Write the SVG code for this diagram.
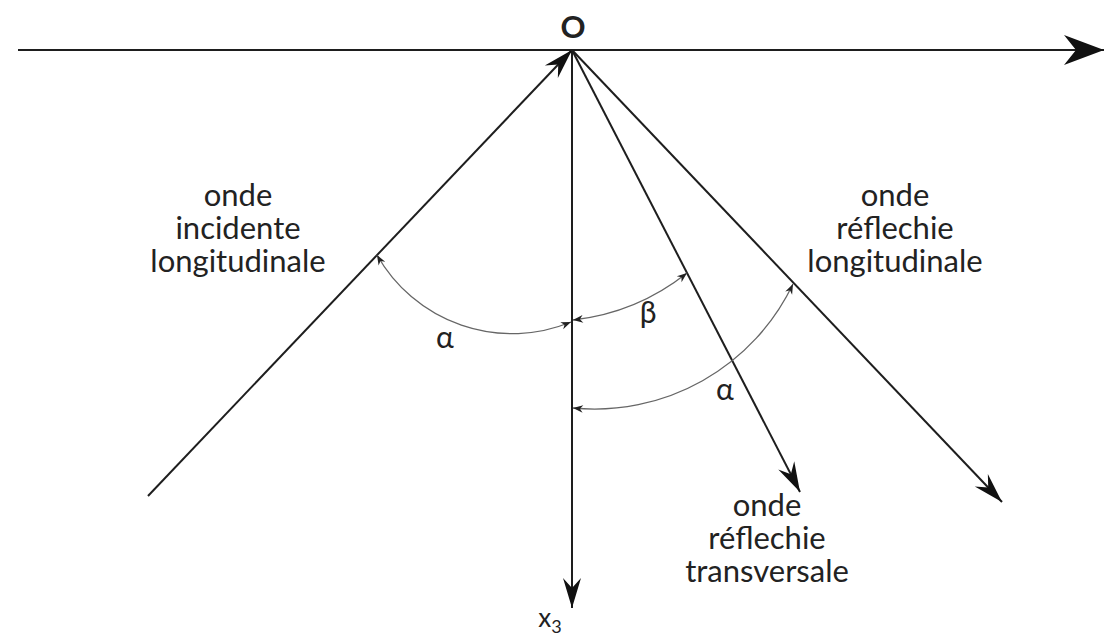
<svg xmlns="http://www.w3.org/2000/svg" width="1109" height="641" viewBox="0 0 1109 641">
  <style>
    .ax { stroke: #1e1e1e; stroke-width: 2; fill: none; }
    .arc { stroke: #666; stroke-width: 1.3; fill: none; }
    .lbl { font-family: Lato, "Liberation Sans", sans-serif; font-size: 31px; fill: #222; text-anchor: middle; }
    .gr { font-family: Lato, "DejaVu Sans", sans-serif; font-size: 30px; fill: #222; text-anchor: middle; }
  </style>
  <defs>
    <marker id="big" markerUnits="userSpaceOnUse" viewBox="-42 -16 44 32" refX="0" refY="0" markerWidth="44" markerHeight="32" orient="auto">
      <path d="M0,0 L-40,-15 L-28,0 L-40,15 Z" fill="#111"/>
    </marker>
    <marker id="med" markerUnits="userSpaceOnUse" viewBox="-32 -12 34 24" refX="0" refY="0" markerWidth="34" markerHeight="24" orient="auto">
      <path d="M0,0 L-30,-9 L-20,0 L-30,9 Z" fill="#111"/>
    </marker>
    <marker id="sm" markerUnits="userSpaceOnUse" viewBox="-11 -5 12 10" refX="0" refY="0" markerWidth="12" markerHeight="10" orient="auto-start-reverse">
      <path d="M0,0 L-10,-3.8 L-7,0 L-10,3.8 Z" fill="#222"/>
    </marker>
  </defs>

  <g id="connectors">
    <line id="axis-x" class="ax" x1="18" y1="50" x2="1104" y2="50" marker-end="url(#big)"/>
    <line id="incident" class="ax" x1="148" y1="496" x2="572" y2="50" marker-end="url(#med)"/>
    <line id="axis-x3" class="ax" x1="572" y1="50" x2="572" y2="608" stroke="#3a3a3a" marker-end="url(#med)"/>
    <line id="transversal" class="ax" x1="572" y1="50" x2="800" y2="492" marker-end="url(#med)"/>
    <line id="reflected-long" class="ax" x1="572" y1="50" x2="1002" y2="502" marker-end="url(#med)"/>
    <path id="arc-alpha1" class="arc" d="M377,255 A155,155 0 0,0 571,322" marker-start="url(#sm)" marker-end="url(#sm)"/>
    <path id="arc-beta" class="arc" d="M573,320 A223,223 0 0,0 687,273" marker-start="url(#sm)" marker-end="url(#sm)"/>
    <path id="arc-alpha2" class="arc" d="M573,408 A220,220 0 0,0 793,284" marker-start="url(#sm)" marker-end="url(#sm)"/>
  </g>

  <g id="origin">
    <text x="573" y="38" class="lbl" font-size="28" font-weight="bold">O</text>
  </g>
  <g id="label-incident">
    <text class="lbl" x="238" y="206">onde</text>
    <text class="lbl" x="238" y="239">incidente</text>
    <text class="lbl" x="238" y="272">longitudinale</text>
  </g>
  <g id="label-reflected-long">
    <text class="lbl" x="895" y="206">onde</text>
    <text class="lbl" x="895" y="239">réflechie</text>
    <text class="lbl" x="895" y="272">longitudinale</text>
  </g>
  <g id="label-transversal">
    <text class="lbl" x="767" y="516">onde</text>
    <text class="lbl" x="767" y="549">réflechie</text>
    <text class="lbl" x="767" y="582">transversale</text>
  </g>
  <g id="angle-labels">
    <text class="gr" x="445" y="348">α</text>
    <text class="gr" x="648" y="323">β</text>
    <text class="gr" x="725" y="400">α</text>
  </g>
  <g id="label-x3">
    <text x="550" y="627" font-family="Lato, 'Liberation Sans', sans-serif" font-size="26" fill="#222" text-anchor="middle">x<tspan font-size="18" dy="6">3</tspan></text>
  </g>
</svg>
